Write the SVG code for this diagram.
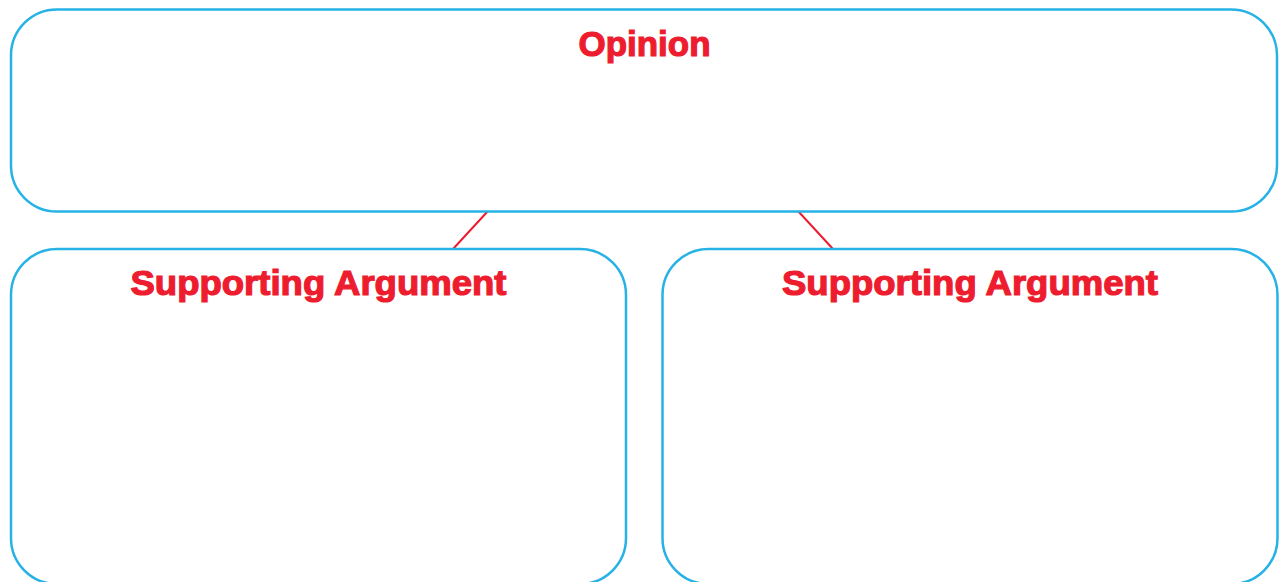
<svg xmlns="http://www.w3.org/2000/svg" width="1287" height="582" viewBox="0 0 1287 582">
<style>
.box{fill:#fff;stroke:#27b2e6;stroke-width:2.5}
.t{font-family:"Liberation Sans",Arial,sans-serif;font-weight:700;fill:#ed1c2e;stroke:#ed1c2e;stroke-width:1.2;font-size:35px;text-anchor:middle}
.c{stroke:#ed1c2e;stroke-width:2;fill:none}
</style>
<rect width="1287" height="582" fill="#fff"/>
<g id="connectors">
<line class="c" x1="488" y1="211" x2="453" y2="249"/>
<line class="c" x1="798" y1="211" x2="833" y2="249"/>
</g>
<g id="opinion">
<rect class="box" x="11" y="9.5" width="1266" height="202" rx="46" ry="46"/>
<text class="t" x="644.5" y="56" textLength="132" lengthAdjust="spacingAndGlyphs">Opinion</text>
</g>
<g id="arg1">
<rect class="box" x="11" y="249" width="615" height="335" rx="46" ry="46"/>
<text class="t" x="318.5" y="295" textLength="376" lengthAdjust="spacingAndGlyphs">Supporting Argument</text>
</g>
<g id="arg2">
<rect class="box" x="662.5" y="249" width="615" height="335" rx="46" ry="46"/>
<text class="t" x="970" y="295" textLength="376" lengthAdjust="spacingAndGlyphs">Supporting Argument</text>
</g>
</svg>
